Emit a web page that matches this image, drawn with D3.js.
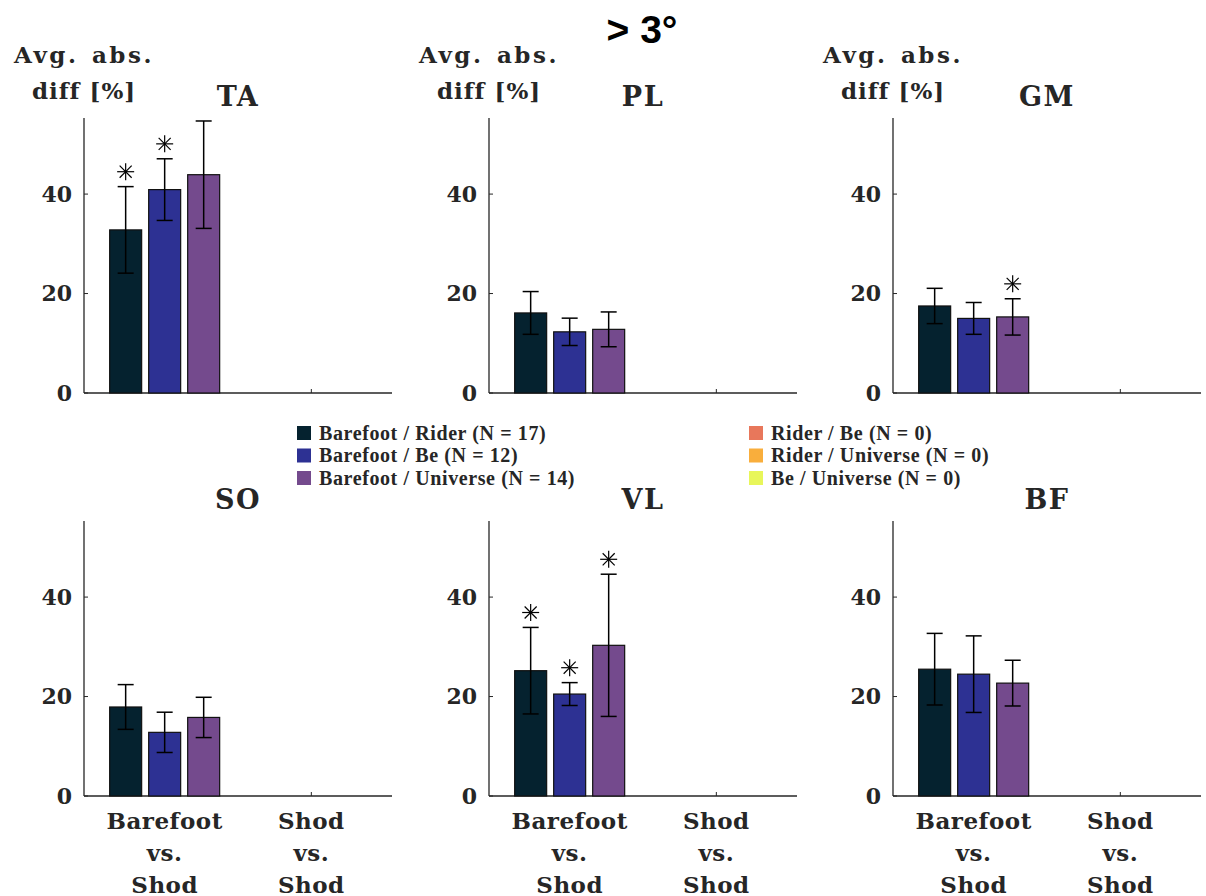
<!DOCTYPE html>
<html>
<head>
<meta charset="utf-8">
<title>&gt; 3°</title>
<script src="https://cdn.jsdelivr.net/npm/d3@7"></script>
<style>
	body { margin: 0; background: #fff; }
	svg { display: block; }
	.serif { font-family: 'DejaVu Serif', serif; font-weight: bold; fill: #262626; }
	.legend text { font-family: 'Liberation Serif', serif; font-weight: bold; fill: #262626; }
</style>
</head>
<body>
<svg id="chart" width="1206" height="896"></svg>
<script>
(function() {
	'use strict';

	// data
	var muscles = ['TA', 'PL', 'GM', 'SO', 'VL', 'BF'];
	var categories = [['Barefoot', 'vs.', 'Shod'], ['Shod', 'vs.', 'Shod']];
	var seriesNames = ['Barefoot / Rider', 'Barefoot / Be', 'Barefoot / Universe', 'Rider / Be', 'Rider / Universe', 'Be / Universe'];
	var seriesN = [17, 12, 14, 0, 0, 0];
	var seriesColors = ['#05222f', '#2d3193', '#744a8d', '#e8775b', '#f9ae3c', '#e8f65a'];
	var yTicks = [0, 20, 40];

	// barefoot vs. shod means, one row per muscle (series 1-3)
	var means = [
		[32.8, 40.9, 43.9],
		[16.1, 12.3, 12.8],
		[17.5, 15.0, 15.3],
		[17.9, 12.8, 15.8],
		[25.2, 20.5, 30.3],
		[25.5, 24.5, 22.7]
	];
	var errs = [
		[8.7, 6.2, 10.8],
		[4.3, 2.75, 3.5],
		[3.55, 3.2, 3.65],
		[4.5, 4.05, 4.05],
		[8.7, 2.3, 14.3],
		[7.2, 7.7, 4.6]
	];
	var signif = [
		[1, 1, 0],
		[0, 0, 0],
		[0, 0, 1],
		[0, 0, 0],
		[1, 1, 1],
		[0, 0, 0]
	];

	var svg = d3.select('#chart');
	var axisColor = '#262626';

	var panelLeft = [84, 489, 893];
	var panelTop = [118, 521];
	var pw = 308, ph = 275;

	var x = d3.scaleLinear().domain([0.45, 2.55]).range([0, pw]);
	var y = d3.scaleLinear().domain([0, 55.3]).range([ph, 0]);
	// series offset inside the group (x units)
	var inner = d3.scaleBand().domain([0, 1, 2]).range([-0.375, 0.375]).paddingInner(0.18);

	// title
	svg.append('text')
		.attr('x', 642).attr('y', 43)
		.attr('text-anchor', 'middle')
		.style('font-family', "'Liberation Sans', sans-serif")
		.style('font-weight', 'bold')
		.style('font-size', '39px')
		.text('> 3°');

	function drawPanel(m) {
		var col = m % 3, row = Math.floor(m / 3);
		var g = svg.append('g')
			.attr('transform', 'translate(' + panelLeft[col] + ',' + panelTop[row] + ')');

		var bars = means[m].map(function(v, i) {
			return { i: i, v: v, e: errs[m][i], s: signif[m][i] };
		});

		// axes
		g.append('line').attr('x1', 0).attr('x2', 0).attr('y1', 0).attr('y2', ph)
			.attr('stroke', axisColor).attr('stroke-width', 1.3);
		g.append('line').attr('x1', 0).attr('x2', pw).attr('y1', ph).attr('y2', ph)
			.attr('stroke', axisColor).attr('stroke-width', 1.3);

		g.selectAll('.ytick').data(yTicks).enter().append('line')
			.attr('x1', 0).attr('x2', 4)
			.attr('y1', function(d) { return y(d); })
			.attr('y2', function(d) { return y(d); })
			.attr('stroke', axisColor);

		g.selectAll('.ylab').data(yTicks).enter().append('text')
			.attr('class', 'serif')
			.attr('x', -12)
			.attr('y', function(d) { return y(d); })
			.attr('dy', '0.36em')
			.attr('text-anchor', 'end')
			.style('font-size', '22px')
			.text(function(d) { return d; });

		g.selectAll('.xtick').data(categories).enter().append('line')
			.attr('x1', function(d, i) { return x(i + 1); })
			.attr('x2', function(d, i) { return x(i + 1); })
			.attr('y1', ph).attr('y2', ph - 4)
			.attr('stroke', axisColor);

		// DATA JOIN - bars
		g.selectAll('rect.bar').data(bars).enter().append('rect')
			.attr('class', 'bar')
			.attr('x', function(d) { return x(1 + inner(d.i)); })
			.attr('width', function() { return x(1 + inner.bandwidth()) - x(1); })
			.attr('y', function(d) { return y(d.v); })
			.attr('height', function(d) { return y(0) - y(d.v); })
			.attr('fill', function(d) { return seriesColors[d.i]; })
			.attr('stroke', '#111')
			.attr('stroke-width', 1.2);

		// error bars
		var cx = function(d) { return x(1 + inner(d.i) + inner.bandwidth() / 2); };
		var eb = g.selectAll('g.err').data(bars).enter().append('g')
			.attr('class', 'err')
			.attr('stroke', '#000')
			.attr('stroke-width', 1.5);
		eb.append('line')
			.attr('x1', cx).attr('x2', cx)
			.attr('y1', function(d) { return y(d.v + d.e); })
			.attr('y2', function(d) { return y(d.v - d.e); });
		eb.append('line')
			.attr('x1', function(d) { return cx(d) - 8; })
			.attr('x2', function(d) { return cx(d) + 8; })
			.attr('y1', function(d) { return y(d.v + d.e); })
			.attr('y2', function(d) { return y(d.v + d.e); });
		eb.append('line')
			.attr('x1', function(d) { return cx(d) - 8; })
			.attr('x2', function(d) { return cx(d) + 8; })
			.attr('y1', function(d) { return y(d.v - d.e); })
			.attr('y2', function(d) { return y(d.v - d.e); });

		// significance asterisks
		var stars = g.selectAll('g.star').data(bars.filter(function(d) { return d.s; })).enter().append('g')
			.attr('class', 'star')
			.attr('transform', function(d) { return 'translate(' + cx(d) + ',' + y(d.v + d.e + 3) + ')'; })
			.attr('stroke', '#000')
			.attr('stroke-width', 1.2);
		[0, 45, 90, 135].forEach(function(a) {
			stars.append('line')
				.attr('x1', 0).attr('x2', 0).attr('y1', -8.5).attr('y2', 8.5)
				.attr('transform', 'rotate(' + a + ')');
		});

		// panel title
		g.append('text')
			.attr('class', 'serif')
			.attr('x', pw / 2).attr('y', -12)
			.attr('text-anchor', 'middle')
			.style('font-size', '27px')
			.style('letter-spacing', '1.5px')
			.text(muscles[m]);

		if (row === 0) {
			var yl = g.append('text')
				.attr('class', 'serif')
				.attr('text-anchor', 'middle')
				.style('font-size', '23px');
			yl.append('tspan').attr('x', 0).attr('y', -55)
				.style('letter-spacing', '2.5px')
				.style('word-spacing', '3px')
				.text('Avg. abs.');
			yl.append('tspan').attr('x', 0).attr('y', -19)
				.style('letter-spacing', '1px')
				.text('diff [%]');
		} else {
			var xl = g.selectAll('.xlab').data(categories).enter().append('text')
				.attr('class', 'serif')
				.attr('text-anchor', 'middle')
				.style('font-size', '23px')
				.style('letter-spacing', '0.5px');
			xl.selectAll('tspan').data(function(d, i) { return d.map(function(w) { return { w: w, c: i }; }); })
				.enter().append('tspan')
				.attr('x', function(d) { return x(d.c + 1); })
				.attr('y', function(d, j) { return ph + 33 + j * 32; })
				.text(function(d) { return d.w; });
		}
	}

	muscles.forEach(function(d, i) { drawPanel(i); });

	// legend
	var legend = svg.append('g').attr('class', 'legend');
	var legCols = [297, 749];
	var legRows = [433, 455.5, 478];
	var items = legend.selectAll('g').data(seriesNames).enter().append('g')
		.attr('transform', function(d, i) {
			return 'translate(' + legCols[Math.floor(i / 3)] + ',' + legRows[i % 3] + ')';
		});
	items.append('rect')
		.attr('x', 0).attr('y', -7).attr('width', 14).attr('height', 14)
		.attr('fill', function(d, i) { return seriesColors[i]; });
	items.append('text')
		.attr('x', 22).attr('y', 0).attr('dy', '0.34em')
		.style('font-size', '20px')
		.style('letter-spacing', '0.6px')
		.text(function(d, i) { return d + ' (N = ' + seriesN[i] + ')'; });
})();
</script>
</body>
</html>
